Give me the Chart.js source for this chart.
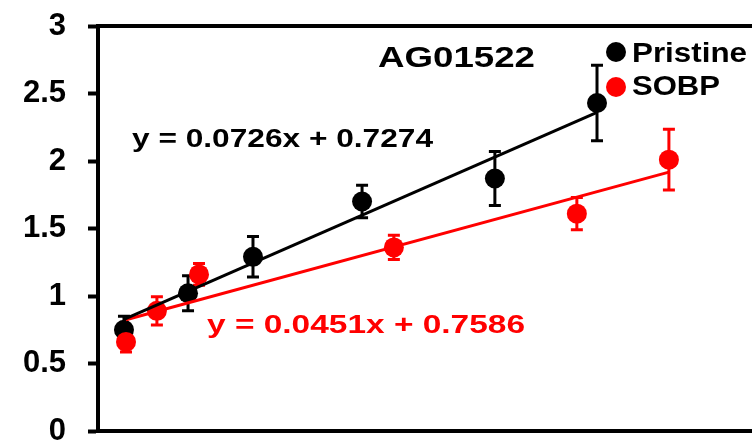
<!DOCTYPE html>
<html>
<head>
<meta charset="utf-8">
<title>AG01522</title>
<script src="https://cdn.jsdelivr.net/npm/chart.js@4.4.0/dist/chart.umd.min.js"></script>
<style>
  html, body { margin: 0; padding: 0; background: #fff; overflow: hidden; }
  #wrap { width: 752px; height: 442px; }
</style>
</head>
<body>
<div id="wrap"><canvas id="chart" width="752" height="442"></canvas></div>
<script>
// Pristine beam
const pristineX = [1.36, 4.22, 7.12, 11.99, 17.92, 22.48];
const pristineY = [0.75, 1.02, 1.29, 1.70, 1.87, 2.43];
const pristineErr = [0.10, 0.13, 0.15, 0.12, 0.20, 0.28];

// SOBP
const sobpX = [1.45, 2.83, 4.71, 13.41, 21.58, 25.69];
const sobpY = [0.66, 0.89, 1.16, 1.36, 1.61, 2.01];
const sobpErr = [0.075, 0.105, 0.08, 0.09, 0.12, 0.225];

// linear fits: [slope, intercept]
const pristineFit = [0.0726, 0.7274];
const sobpFit = [0.0451, 0.7586];

const yTickLabels = ['0', '0.5', '1', '1.5', '2', '2.5', '3'];
const seriesNames = ['Pristine', 'SOBP'];
const cellLine = 'AG01522';

const BLACK = '#000000';
const RED = '#ff0000';
const FONT = '"Liberation Sans", Arial, Helvetica, sans-serif';

function toPoints(xs, ys) {
    return xs.map((x, i) => ({ x: x, y: ys[i] }));
}

// straight fit line across the range of the series
function fitLine(xs, fit) {
    const x0 = xs[0];
    const x1 = xs[xs.length - 1];
    return [
        { x: x0, y: fit[0] * x0 + fit[1] },
        { x: x1, y: fit[0] * x1 + fit[1] }
    ];
}

function fitLabel(fit) {
    return 'y = ' + fit[0] + 'x + ' + fit[1];
}

// fixed axis box sizes, no extra room for overhanging labels
function fixBox(size) {
    return function(scale) {
        if (scale.isHorizontal()) scale.height = size;
        else scale.width = size;
        scale.paddingTop = 0;
        scale.paddingBottom = 0;
        scale.paddingLeft = 0;
        scale.paddingRight = 0;
    };
}

// error bars with short caps, drawn under the markers
const errorBars = {
    id: 'errorBars',
    beforeDatasetsDraw(chart) {
        const ctx = chart.ctx;
        const xs = chart.scales.x;
        const ys = chart.scales.y;
        const sets = [
            [pristineX, pristineY, pristineErr, BLACK],
            [sobpX, sobpY, sobpErr, RED]
        ];
        ctx.save();
        ctx.lineWidth = 3;
        sets.forEach(([X, Y, E, color]) => {
            ctx.strokeStyle = color;
            X.forEach((x, i) => {
                const px = xs.getPixelForValue(x);
                const top = ys.getPixelForValue(Y[i] + E[i]);
                const bot = ys.getPixelForValue(Y[i] - E[i]);
                ctx.beginPath();
                ctx.moveTo(px, top);
                ctx.lineTo(px, bot);
                ctx.moveTo(px - 6, top);
                ctx.lineTo(px + 6, top);
                ctx.moveTo(px - 6, bot);
                ctx.lineTo(px + 6, bot);
                ctx.stroke();
            });
        });
        ctx.restore();
    }
};

// bold text squeezed/stretched to a given width
function wideText(ctx, text, left, baseline, size, width, color) {
    ctx.save();
    ctx.font = 'bold ' + size + 'px ' + FONT;
    ctx.fillStyle = color;
    ctx.textAlign = 'left';
    ctx.textBaseline = 'alphabetic';
    const sx = width / ctx.measureText(text).width;
    ctx.translate(left, baseline);
    ctx.scale(sx, 1);
    ctx.fillText(text, 0, 0);
    ctx.restore();
}

const labels = {
    id: 'labels',
    afterDraw(chart) {
        const ctx = chart.ctx;
        wideText(ctx, cellLine, 378, 67, 30, 157, BLACK);
        wideText(ctx, fitLabel(pristineFit), 132, 147, 26, 301, BLACK);
        wideText(ctx, fitLabel(sobpFit), 207, 333, 26, 318, RED);

        // legend
        [[BLACK, 52, 62, 115], [RED, 87, 95, 88]].forEach(([color, cy, base, w], i) => {
            ctx.save();
            ctx.fillStyle = color;
            ctx.beginPath();
            ctx.arc(616, cy, 10, 0, Math.PI * 2);
            ctx.fill();
            ctx.restore();
            wideText(ctx, seriesNames[i], 632, base, 28, w, BLACK);
        });
    }
};

new Chart(document.getElementById('chart'), {
    type: 'scatter',
    data: {
        datasets: [
            {
                type: 'line',
                data: fitLine(pristineX, pristineFit),
                borderColor: BLACK,
                borderWidth: 3,
                pointRadius: 0,
                fill: false
            },
            {
                data: toPoints(sobpX, sobpY),
                backgroundColor: RED,
                borderWidth: 0,
                pointRadius: 10,
                pointHoverRadius: 10
            },
            {
                type: 'line',
                data: fitLine(sobpX, sobpFit),
                borderColor: RED,
                borderWidth: 3,
                pointRadius: 0,
                fill: false
            },
            {
                data: toPoints(pristineX, pristineY),
                backgroundColor: BLACK,
                borderWidth: 0,
                pointRadius: 10,
                pointHoverRadius: 10
            }
        ]
    },
    options: {
        responsive: false,
        animation: false,
        devicePixelRatio: 1,
        layout: { padding: 0, autoPadding: false },
        plugins: {
            legend: { display: false },
            tooltip: { enabled: false }
        },
        scales: {
            x: {
                type: 'linear',
                min: 0.2,
                max: 29.4,
                ticks: { display: false },
                grid: { display: false },
                border: { color: BLACK, width: 4 },
                afterFit: fixBox(11)
            },
            x2: {
                type: 'linear',
                position: 'top',
                min: 0,
                max: 1,
                ticks: { display: false },
                grid: { display: false },
                border: { color: BLACK, width: 4 },
                afterFit: fixBox(26)
            },
            y: {
                min: 0,
                max: 3,
                ticks: {
                    stepSize: 0.5,
                    autoSkip: false,
                    color: BLACK,
                    padding: 22,
                    font: { family: FONT, size: 31, weight: 'bold' },
                    callback: (value, i) => yTickLabels[i]
                },
                grid: {
                    drawOnChartArea: false,
                    drawTicks: true,
                    tickLength: 10,
                    tickWidth: 4,
                    color: BLACK
                },
                border: { color: BLACK, width: 4 },
                afterFit: fixBox(98)
            }
        }
    },
    plugins: [errorBars, labels]
});
</script>
</body>
</html>
